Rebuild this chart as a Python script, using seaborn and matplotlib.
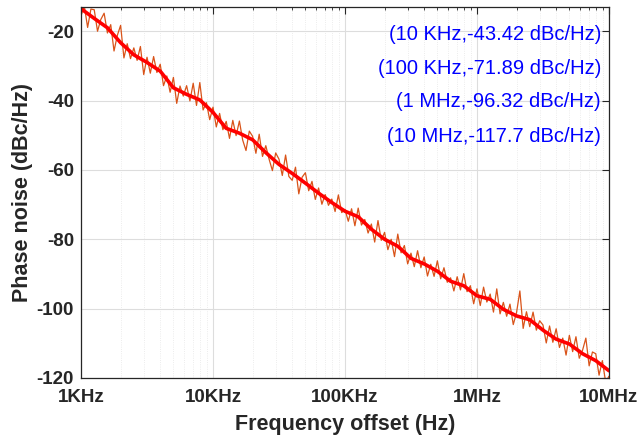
import numpy as np
import pandas as pd
import matplotlib
matplotlib.use("Agg")
import matplotlib.pyplot as plt
import matplotlib.ticker as mticker
import seaborn as sns

# ---- data ----
# smooth (red) curve, sampled every 0.1 decade from 1 kHz to 10 MHz
smooth_logf = [3.0, 3.1, 3.2, 3.3, 3.4, 3.5, 3.6, 3.7, 3.8, 3.9,
               4.0, 4.1, 4.2, 4.3, 4.4, 4.5, 4.6, 4.7, 4.8, 4.9,
               5.0, 5.1, 5.2, 5.3, 5.4, 5.5, 5.6, 5.7, 5.8, 5.9,
               6.0, 6.1, 6.2, 6.3, 6.4, 6.5, 6.6, 6.7, 6.8, 6.9, 7.0]
smooth_pn = [-13.5, -16.3, -19.0, -23.3, -26.8, -29.0, -31.5, -36.3, -38.2, -39.8,
             -43.4, -48.0, -49.4, -51.3, -55.0, -58.4, -61.0, -63.8, -66.7, -69.4,
             -71.9, -73.5, -77.1, -80.0, -82.0, -85.5, -87.1, -89.2, -92.1, -93.4,
             -96.3, -97.3, -100.2, -102.1, -103.2, -106.2, -108.8, -110.2, -113.0, -115.0, -117.9]

# raw (orange) measured trace, every 0.025 decade
raw_pn = [-15.5, -12.7, -18.9, -13.6,
          -13.8, -20.0, -16.6, -14.8,
          -20.5, -18.1, -25.7, -21.2,
          -18.3, -27.7, -23.6, -27.9,
          -24.8, -28.4, -24.4, -32.5,
          -27.5, -32.1, -27.3, -31.9,
          -29.5, -35.7, -32.9, -37.6,
          -33.3, -40.8, -35.8, -38.7,
          -35.7, -40.1, -35.0, -41.4,
          -34.8, -42.7, -40.6, -45.5,
          -41.9, -47.6, -43.7, -48.4,
          -46.0, -50.9, -45.7, -50.1,
          -45.9, -51.4, -54.4, -48.8,
          -50.3, -55.2, -49.7, -56.1,
          -53.0, -56.9, -60.2, -55.1,
          -56.9, -61.6, -55.7, -61.9,
          -63.0, -59.2, -66.9, -62.1,
          -60.8, -66.0, -63.3, -68.5,
          -65.2, -69.9, -67.1, -70.2,
          -68.4, -72.0, -67.2, -72.3,
          -71.4, -74.8, -71.2, -76.1,
          -71.0, -75.9, -74.3, -78.2,
          -75.6, -80.8, -74.6, -80.3,
          -78.0, -83.0, -80.0, -85.0,
          -78.5, -83.9, -81.8, -87.1,
          -84.0, -87.9, -83.3, -88.2,
          -85.1, -90.6, -87.2, -90.7,
          -86.2, -91.4, -88.2, -92.4,
          -91.1, -94.9, -90.8, -94.6,
          -89.9, -95.1, -93.4, -98.6,
          -94.3, -99.1, -93.8, -98.1,
          -95.8, -101.0, -94.3, -101.5,
          -98.2, -102.2, -98.7, -104.6,
          -101.1, -94.9, -105.7, -100.9,
          -105.2, -101.0, -106.2, -103.5,
          -104.7, -109.9, -105.0, -109.7,
          -105.8, -111.2, -108.5, -113.4,
          -107.7, -112.4, -108.1, -114.3,
          -112.0, -108.5, -116.5, -112.5,
          -113.0, -119.2, -115.0, -121.2,
          -119.5]

xtick_vals = [1e3, 1e4, 1e5, 1e6, 1e7]
xtick_labels = ["1KHz", "10KHz", "100KHz", "1MHz", "10MHz"]
ytick_vals = [-120, -100, -80, -60, -40, -20]
annotations = ["(10 KHz,-43.42 dBc/Hz)", "(100 KHz,-71.89 dBc/Hz)",
               "(1 MHz,-96.32 dBc/Hz)", "(10 MHz,-117.7 dBc/Hz)"]

raw_df = pd.DataFrame({"f": np.logspace(3, 7, len(raw_pn)), "pn": raw_pn})
smooth_df = pd.DataFrame({"f": 10 ** np.array(smooth_logf), "pn": smooth_pn})

# ---- style ----
sns.set_theme(style="white")
plt.rcParams["font.family"] = ["Liberation Sans", "DejaVu Sans"]
plt.rcParams["axes.unicode_minus"] = False

fig = plt.figure(figsize=(6.41, 4.41), dpi=100)
ax = fig.add_axes([0.1264, 0.1429, 0.8236, 0.8413])

sns.lineplot(data=raw_df, x="f", y="pn", ax=ax, color="#D95319", linewidth=0.9,
             estimator=None, sort=False)
sns.lineplot(data=smooth_df, x="f", y="pn", ax=ax, color="#FF0000", linewidth=2.6,
             estimator=None, sort=False)

ax.set_xscale("log")
ax.set_xlim(1e3, 1e7)
ax.set_ylim(-120, -13)

ax.set_xticks(xtick_vals)
ax.set_xticklabels(xtick_labels)
ax.xaxis.set_minor_locator(mticker.LogLocator(base=10, subs=np.arange(2, 10)))
ax.xaxis.set_minor_formatter(mticker.NullFormatter())
ax.set_yticks(ytick_vals)
ax.set_yticklabels([str(v) for v in ytick_vals])

txt_color = "#262626"
for lab in ax.get_xticklabels() + ax.get_yticklabels():
    lab.set_fontweight("bold")
    lab.set_fontsize(13.5)
    lab.set_color(txt_color)

ax.tick_params(which="both", direction="in", top=True, right=True, color=txt_color)
ax.tick_params(which="major", length=5, width=0.8)
ax.tick_params(axis="x", which="major", pad=8)
ax.tick_params(axis="y", which="major", pad=5)
ax.tick_params(which="minor", length=2.5, width=0.6)

ax.grid(True, which="major", color="#DDDDDD", linewidth=0.8, linestyle="-")
ax.grid(True, which="minor", axis="x", color="#E6E6E6", linewidth=0.6, linestyle=":")
ax.set_axisbelow(True)

for sp in ax.spines.values():
    sp.set_color(txt_color)
    sp.set_linewidth(0.9)

ax.set_xlabel("Frequency offset (Hz)", fontsize=15.5, fontweight="bold", color=txt_color, labelpad=6)
ax.set_ylabel("Phase noise (dBc/Hz)", fontsize=15.5, fontweight="bold", color=txt_color, labelpad=3)

ypos = [0.927, 0.833, 0.744, 0.650]
for t, yp in zip(annotations, ypos):
    ax.text(0.985, yp, t, transform=ax.transAxes, ha="right", va="center",
            color="#0000FF", fontsize=14.5)

fig.savefig("out.png", dpi=100)
